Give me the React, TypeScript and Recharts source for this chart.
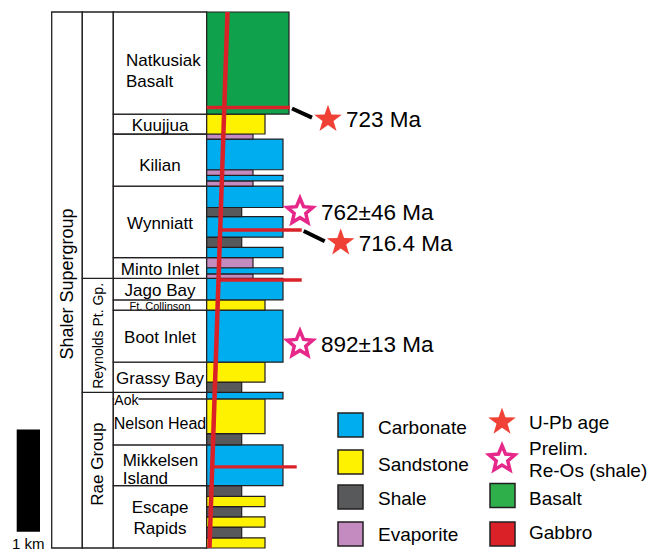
import React from "react";
import {
    ComposedChart,
    XAxis,
    YAxis,
    ReferenceArea,
    ReferenceLine,
    ReferenceDot,
} from "recharts";

const FONT = "'Liberation Sans', Arial, Helvetica, sans-serif";

// lithologic column, from the base up; thickness in metres
const layerLith = [
    "sandstone", "shale", "sandstone", "shale", "sandstone", "shale",
    "carbonate", "shale", "sandstone", "carbonate", "shale", "sandstone",
    "carbonate", "sandstone", "carbonate", "evaporite", "carbonate", "evaporite",
    "carbonate", "shale", "carbonate", "shale", "carbonate", "evaporite",
    "carbonate", "evaporite", "carbonate", "evaporite", "sandstone", "basalt",
];
const layerThickness = [
    100, 105, 100, 100, 100, 105,
    400, 110, 340, 65, 100, 195,
    510, 100, 210, 45, 60, 100,
    100, 100, 200, 90, 210, 50,
    55, 55, 300, 50, 195, 1000,
];

// formations, base up
const formationNames = [
    "Escape\nRapids", "Mikkelsen\nIsland", "Nelson Head", "Aok", "Grassy Bay",
    "Boot Inlet", "Ft. Collinson", "Jago Bay", "Minto Inlet", "Wynniatt",
    "Kilian", "Kuujjua", "Natkusiak\nBasalt",
];
const formationThickness = [610, 400, 450, 65, 295, 510, 100, 210, 205, 700, 510, 195, 1000];

// groups, base up
const groupNames = ["Rae Group", "Reynolds Pt. Gp.", ""];
const groupThickness = [1525, 1115, 2610];
const supergroupName = "Shaler Supergroup";

// gabbro sills, metres above base
const sillHeights = [4315, 3115, 2625, 795];

// dated horizons
const ageLabels = ["723 Ma", "762±46 Ma", "716.4 Ma", "892±13 Ma"];
const ageMethods = ["U-Pb", "Re-Os", "U-Pb", "Re-Os"];
const ageHeights = [4200, 3295, 2990, 1995];
const ageSill = [0, -1, 1, -1];

const lithLegend = ["Carbonate", "Sandstone", "Shale", "Evaporite"];

// ---- styling / layout ----
const W = 647;
const H = 553;
const MARGIN = { top: 12, right: 0, bottom: 5, left: 0 };

const COL1_X = 51.7;
const COL2_X = 82.3;
const COL3_X = 113.3;
const LITH_X = 206.7;
const DIKE_TOP_X = 227.5;
const DIKE_BASE_X = 209.5;
const sillLeftAtDike = [false, true, true, true];
const sillEnds = [290, 301.7, 301.7, 296.7];
const starX = [328, 300, 340.7, 300];

const LITH_FILL: Record<string, string> = {
    carbonate: "#00aeef",
    sandstone: "#fff200",
    shale: "#58595b",
    evaporite: "#c48bc0",
    basalt: "#10a14c",
};
const LITH_WIDTH: Record<string, number> = {
    carbonate: 76.3,
    sandstone: 58.3,
    shale: 35,
    evaporite: 46.3,
    basalt: 82.3,
};
const GABBRO = "#da2128";
const UPB_RED = "#ef4135";
const REOS_PINK = "#e6288a";
const LINE = "#231f20";

const FORMATION_STYLE: Record<string, any> = {
    "Natkusiak\nBasalt": { align: "start", dx: 12.7, dy: 6.5, gap: 20.6 },
    "Kilian": { dy: 4 },
    "Nelson Head": { size: 16 },
    "Mikkelsen\nIsland": { align: "start", dx: 9.4, dy: 3, gap: 18 },
    "Ft. Collinson": { size: 11, dy: -2.5 },
    "Escape\nRapids": { gap: 21 },
};

const total = layerThickness.reduce((a, b) => a + b, 0);

const stack = (thick: number[]) => {
    let h = 0;
    return thick.map((t) => {
        const seg = { base: h, top: h + t };
        h += t;
        return seg;
    });
};

const dikeX = (h: number) => DIKE_BASE_X + ((DIKE_TOP_X - DIKE_BASE_X) * h) / total;

const starPath = (cx: number, cy: number, R: number, ratio = 0.4) => {
    const pts: string[] = [];
    for (let i = 0; i < 10; i++) {
        const a = ((-90 + i * 36) * Math.PI) / 180;
        const rad = i % 2 === 0 ? R : R * ratio;
        pts.push(`${(cx + rad * Math.cos(a)).toFixed(2)},${(cy + rad * Math.sin(a)).toFixed(2)}`);
    }
    return "M" + pts.join("L") + "Z";
};

const Star = ({ cx, cy, method }: { cx: number; cy: number; method: string }) =>
    method === "U-Pb" ? (
        <path d={starPath(cx, cy, 14.5)} fill={UPB_RED} />
    ) : (
        <path d={starPath(cx, cy, 13.5, 0.45)} fill="#fff" stroke={REOS_PINK} strokeWidth={3.5} />
    );

const formationLabel = (name: string) => (props: any) => {
    const vb = props.viewBox;
    if (!vb) return null;
    const st = FORMATION_STYLE[name] || {};
    const size = st.size || 17;
    const lines = name.split("\n");
    const c = vb.y + vb.height / 2 + 7 + (st.dy || 0);
    const gap = st.gap || 20;
    const x = st.align === "start" ? vb.x + st.dx : vb.x + vb.width / 2;
    if (name === "Aok") {
        return (
            <g>
                <rect x={vb.x + 1} y={vb.y + 1} width={24} height={13} fill="#fff" />
                <text x={vb.x + 1} y={vb.y + 13} fontSize={14} fontFamily={FONT} fill="#000">Aok</text>
            </g>
        );
    }
    return (
        <text fontSize={size} fontFamily={FONT} fill="#000" textAnchor={st.align || "middle"}>
            {lines.map((ln, k) => (
                <tspan key={k} x={x} y={c - ((lines.length - 1) * gap) / 2 + k * gap}>{ln}</tspan>
            ))}
        </text>
    );
};

const rotatedLabel = (text: string, size: number, shift: number) => (props: any) => {
    const vb = props.viewBox;
    if (!vb || !text) return null;
    const cx = vb.x + vb.width / 2;
    const cy = vb.y + vb.height / 2 + shift;
    return (
        <text
            transform={`translate(${cx},${cy}) rotate(-90)`}
            textAnchor="middle"
            dominantBaseline="central"
            fontSize={size}
            fontFamily={FONT}
            fill="#000"
        >
            {text}
        </text>
    );
};

const Legend = () => {
    const boxY = [413, 450, 485, 522];
    const textY = [434, 471, 505, 541];
    const lithKeys = ["carbonate", "sandstone", "shale", "evaporite"];
    return (
        <svg width={W} height={H} style={{ position: "absolute", left: 0, top: 0, pointerEvents: "none" }}>
            <g fontFamily={FONT} fontSize={19} fill="#000">
                {lithLegend.map((name, i) => (
                    <g key={name}>
                        <rect x={338} y={boxY[i]} width={25} height={24} fill={LITH_FILL[lithKeys[i]]} stroke={LINE} strokeWidth={1.5} />
                        <text x={378} y={textY[i]}>{name}</text>
                    </g>
                ))}
                <Star cx={502} cy={422} method="U-Pb" />
                <text x={529} y={429}>U-Pb age</text>
                <Star cx={502} cy={459} method="Re-Os" />
                <text x={529} y={455}>Prelim.</text>
                <text x={529} y={477}>Re-Os (shale)</text>
                <rect x={490} y={483.5} width={25} height={24} fill="#2eaf4a" stroke={LINE} strokeWidth={1.5} />
                <text x={529} y={505}>Basalt</text>
                <rect x={490} y={522} width={25} height={24} fill={GABBRO} stroke={LINE} strokeWidth={1.5} />
                <text x={529} y={539}>Gabbro</text>
            </g>
        </svg>
    );
};

const StratColumn: React.FC = () => {
    const layers = stack(layerThickness);
    const formations = stack(formationThickness);
    const groups = stack(groupThickness);

    return (
        <ComposedChart width={W} height={H} margin={MARGIN}>
            <XAxis type="number" dataKey="x" domain={[0, W]} allowDataOverflow hide />
            <YAxis type="number" domain={[0, total]} allowDataOverflow hide />

            {/* scale bar */}
            <ReferenceArea
                x1={16.7} x2={40} y1={160} y2={1160}
                fill="#000" fillOpacity={1} ifOverflow="visible"
                label={(p: any) =>
                    p.viewBox ? (
                        <text x={p.viewBox.x + p.viewBox.width / 2} y={p.viewBox.y + p.viewBox.height + 17.5}
                            textAnchor="middle" fontSize={15} fontFamily={FONT} fill="#000">1 km</text>
                    ) : null
                }
            />

            {/* supergroup / group / formation boxes */}
            <ReferenceArea
                x1={COL1_X} x2={COL2_X} y1={0} y2={total}
                fill="#fff" fillOpacity={1} stroke={LINE} strokeWidth={1.3} ifOverflow="visible"
                label={rotatedLabel(supergroupName, 18, 4)}
            />
            {groups.map((g, i) => (
                <ReferenceArea
                    key={"g" + i}
                    x1={COL2_X} x2={COL3_X} y1={g.base} y2={g.top}
                    fill="#fff" fillOpacity={1} stroke={LINE} strokeWidth={1.3} ifOverflow="visible"
                    label={rotatedLabel(groupNames[i], i === 1 ? 14 : 17, i === 0 ? -6 : 0.5)}
                />
            ))}
            {formations.map((f, i) => (
                <ReferenceArea
                    key={"f" + i}
                    x1={COL3_X} x2={LITH_X} y1={f.base} y2={f.top}
                    fill="#fff" fillOpacity={1} stroke={LINE} strokeWidth={1.3} ifOverflow="visible"
                    label={formationLabel(formationNames[i])}
                />
            ))}

            {/* lithologies */}
            {layers.map((l, i) => (
                <ReferenceArea
                    key={"l" + i}
                    x1={LITH_X} x2={LITH_X + LITH_WIDTH[layerLith[i]]} y1={l.base} y2={l.top}
                    fill={LITH_FILL[layerLith[i]]} fillOpacity={1}
                    stroke={LINE} strokeWidth={1.2} ifOverflow="visible"
                />
            ))}

            {/* gabbro sills and feeder dike */}
            {sillHeights.map((h, i) => (
                <ReferenceLine
                    key={"s" + i}
                    segment={[{ x: sillLeftAtDike[i] ? dikeX(h) : LITH_X, y: h }, { x: sillEnds[i], y: h }]}
                    stroke={GABBRO} strokeWidth={3.4} ifOverflow="visible"
                />
            ))}
            <ReferenceLine
                segment={[{ x: DIKE_BASE_X, y: 0 }, { x: DIKE_TOP_X, y: total }]}
                stroke={GABBRO} strokeWidth={4.5} ifOverflow="visible"
            />

            {/* tie lines from sills to dated samples */}
            {ageSill.map((s, i) =>
                s < 0 ? null : (
                    <ReferenceLine
                        key={"t" + i}
                        segment={[
                            { x: sillEnds[s] + 2, y: sillHeights[s] - 10 },
                            { x: starX[i] - 16, y: ageHeights[i] + 15 },
                        ]}
                        stroke="#000" strokeWidth={4} ifOverflow="visible"
                    />
                )
            )}

            {/* ages */}
            {ageLabels.map((lab, i) => (
                <ReferenceDot
                    key={"a" + i}
                    x={starX[i]} y={ageHeights[i]} r={14} ifOverflow="visible"
                    shape={(p: any) => (
                        <g>
                            <Star cx={p.cx} cy={p.cy} method={ageMethods[i]} />
                            <text x={p.cx + (ageMethods[i] === "U-Pb" ? 18 : 21)} y={p.cy + 8}
                                fontSize={22.5} fontFamily={FONT} fill="#000">{lab}</text>
                        </g>
                    )}
                />
            ))}
        </ComposedChart>
    );
};

export default function App() {
    return (
        <div style={{ position: "absolute", left: 0, top: 0, width: W, height: H, background: "#fff" }}>
            <StratColumn />
            <Legend />
        </div>
    );
}
